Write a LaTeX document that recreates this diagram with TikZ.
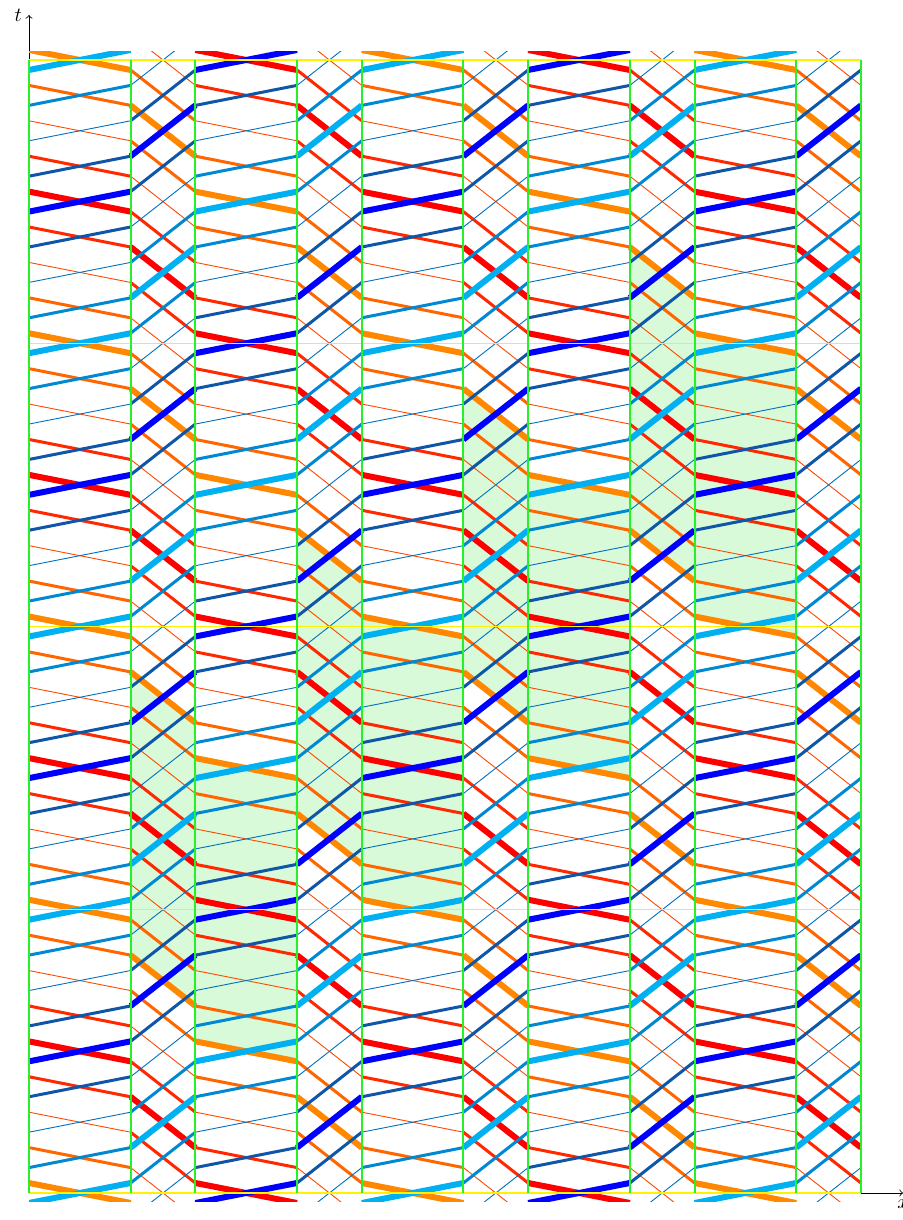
\documentclass[tikz,border=0pt]{standalone}
\usepackage{tikz}
\usepackage{amsmath}

% periods (1 unit = 1 pixel of the picture)
\def\s{35.40625}  % time step between crossings
\def\cp{166.4}    % spatial period
\def\cw{101.6}    % wide layer
\def\hw{10}       % half time in wide layer
\def\hn{25.40625} % half time in narrow layer

\definecolor{Lp}{RGB}{255,136,0}
\definecolor{Lph}{RGB}{255,102,0}
\definecolor{Lz}{RGB}{255,72,0}
\definecolor{Lmh}{RGB}{255,40,0}
\definecolor{Lm}{RGB}{255,0,0}
\definecolor{Rp}{RGB}{0,176,240}
\definecolor{Rph}{RGB}{0,136,210}
\definecolor{Rz}{RGB}{0,112,192}
\definecolor{Rmh}{RGB}{16,86,168}
\definecolor{Rm}{RGB}{0,0,255}
\definecolor{cellfill}{RGB}{216,250,216}
\definecolor{layergreen}{RGB}{40,240,40}

\tikzset{
  L0/.style={draw=Lp,line width=3pt},
  L1/.style={draw=Lph,line width=1.5pt},
  L2/.style={draw=Lz,line width=.45pt},
  L3/.style={draw=Lmh,line width=1.5pt},
  L4/.style={draw=Lm,line width=3pt},
  L5/.style={L3},
  L6/.style={L2},
  L7/.style={L1},
  R0/.style={draw=Rp,line width=3pt},
  R1/.style={draw=Rph,line width=1.5pt},
  R2/.style={draw=Rz,line width=.45pt},
  R3/.style={draw=Rmh,line width=1.5pt},
  R4/.style={draw=Rm,line width=3pt},
  R5/.style={R3},
  R6/.style={R2},
  R7/.style={R1},
  layer/.style={draw=layergreen,line width=1pt},
  period/.style={draw=yellow,line width=.6pt}
}

\begin{document}
\begin{tikzpicture}[x=.5pt,y=.5pt]
\useasboundingbox (-29,-27) rectangle (874,1193);

% shaded cell
\foreach \j in {1,...,4}{
  \fill[cellfill] (\j*\cp,4*\j*\s+8*\s+\hw) -- (\j*\cp+\cw,4*\j*\s+8*\s-\hw)
    -- (\j*\cp+\cw,4*\j*\s-\hw) -- (\j*\cp,4*\j*\s+\hw) -- cycle;
}
\foreach \j in {0,...,3}{
  \fill[cellfill] (\j*\cp+\cw,4*\j*\s+14*\s+\hn) -- (\j*\cp+\cp,4*\j*\s+14*\s-\hn)
    -- (\j*\cp+\cp,4*\j*\s+6*\s-\hn) -- (\j*\cp+\cw,4*\j*\s+6*\s+\hn) -- cycle;
}

\draw[->] (0,0) -- (0,1178) node[left] (tlab) {$t$};
\draw[->] (0,0) -- (874,0) node[below] (xlab) {$x$};

\begin{scope}
\clip (0,-9) rectangle (832,1141);
% left-going
\foreach \j in {0,...,4}{
  \foreach \k in {-1,...,33}{
    \pgfmathtruncatemacro\ma{mod(\k+4*\j+80,8)}
    \pgfmathtruncatemacro\mb{mod(\k+4*\j+82,8)}
    \draw[L\ma] (\j*\cp,\k*\s+\hw) -- (\j*\cp+\cw,\k*\s-\hw);
    \draw[L\mb] (\j*\cp+\cw,\k*\s+\hn) -- (\j*\cp+\cp,\k*\s-\hn);
  }
}
% right-going
\foreach \j in {0,...,4}{
  \foreach \k in {-1,...,33}{
    \pgfmathtruncatemacro\ma{mod(\k-4*\j+80,8)}
    \pgfmathtruncatemacro\mb{mod(\k-4*\j+78,8)}
    \draw[R\ma] (\j*\cp,\k*\s-\hw) -- (\j*\cp+\cw,\k*\s+\hw);
    \draw[R\mb] (\j*\cp+\cw,\k*\s-\hn) -- (\j*\cp+\cp,\k*\s+\hn);
  }
}
\end{scope}

% layers and periods
\foreach \n in {0,...,4}{
  \draw[period] (0,\n*8*\s) -- (5*\cp,\n*8*\s);
}
\foreach \j in {0,...,5}{
  \draw[layer] (\j*\cp,0) -- (\j*\cp,8*4*\s);
}
\foreach \j in {0,...,4}{
  \draw[layer] (\j*\cp+\cw,0) -- (\j*\cp+\cw,8*4*\s);
}
\end{tikzpicture}
\end{document}
